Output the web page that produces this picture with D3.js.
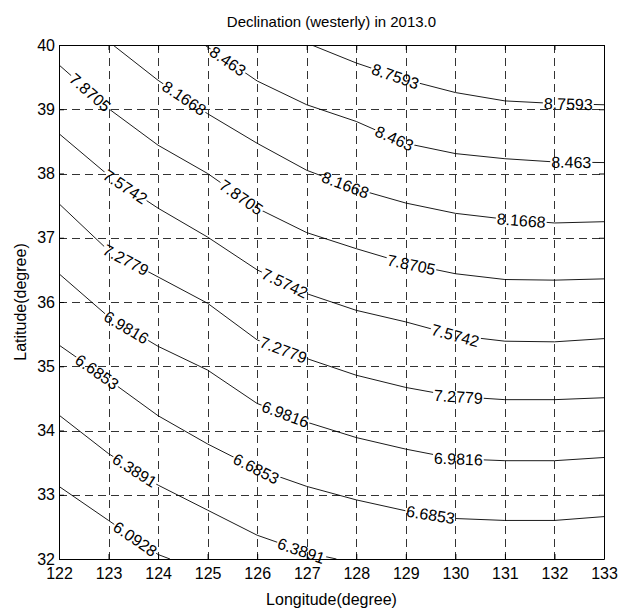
<!DOCTYPE html>
<html>
<head>
<meta charset="utf-8">
<script src="https://cdn.jsdelivr.net/npm/d3@7"></script>
<style>
  body { margin: 0; background: #fff; }
  text { font-family: "Liberation Sans", Arial, sans-serif; fill: #000; }
</style>
</head>
<body>
<div id="chart"></div>
<script>
// contour levels (declination, degrees west)
var levels = [6.0928, 6.3891, 6.6853, 6.9816, 7.2779, 7.5742, 7.8705, 8.1668, 8.463, 8.7593];

// each contour as [longitude, latitude] points
var line60928 = [[122,33.13],[123,32.6],[124,32.07],[124.24,32]];
var line63891 = [[122,34.24],[123,33.64],[124,33.15],[125,32.76],[126,32.37],[127,32.1],[127.6,32]];
var line66853 = [[122,35.33],[123,34.79],[124,34.23],[125,33.79],[126,33.4],[127,33.13],[128,32.92],[129,32.75],[130,32.63],[131,32.6],[132,32.6],[133,32.66]];
var line69816 = [[122,36.44],[123,35.77],[124,35.31],[125,34.94],[126,34.42],[127,34.13],[128,33.89],[129,33.71],[130,33.56],[131,33.53],[132,33.53],[133,33.58]];
var line72779 = [[122,37.53],[123,36.8],[124,36.39],[125,35.98],[126,35.41],[127,35.12],[128,34.86],[129,34.67],[130,34.53],[131,34.48],[132,34.48],[133,34.51]];
var line75742 = [[122,38.62],[123,37.97],[124,37.46],[125,37.01],[126,36.5],[127,36.13],[128,35.87],[129,35.69],[130,35.48],[131,35.39],[132,35.38],[133,35.43]];
var line78705 = [[122,39.69],[123,39.01],[124,38.44],[125,38.0],[126,37.46],[127,37.08],[128,36.83],[129,36.6],[130,36.44],[131,36.35],[132,36.34],[133,36.36]];
var line81668 = [[123.09,40],[124,39.45],[125,38.93],[126,38.47],[127,38.05],[128,37.76],[129,37.54],[130,37.38],[131,37.29],[132,37.23],[133,37.25]];
var line8463  = [[124.94,40],[126,39.44],[127,39.07],[128,38.81],[129,38.47],[130,38.31],[131,38.23],[132,38.18],[133,38.17]];
var line87593 = [[127.1,40],[128,39.72],[129,39.46],[130,39.26],[131,39.13],[132,39.09],[133,39.07]];

var contourLines = [line60928, line63891, line66853, line69816, line72779,
                    line75742, line78705, line81668, line8463, line87593];

// longitude of each inline label on each contour
var labelLon = [
  [123.54],
  [123.53, 126.89],
  [122.77, 125.98, 129.5],
  [123.36, 126.57, 130.06],
  [123.35, 126.53, 130.06],
  [123.34, 126.56, 130.0],
  [122.63, 125.68, 129.11],
  [124.53, 127.78, 131.33],
  [125.41, 128.77, 132.34],
  [128.79, 132.28]
];

var lonTicks = [122, 123, 124, 125, 126, 127, 128, 129, 130, 131, 132, 133];
var latTicks = [32, 33, 34, 35, 36, 37, 38, 39, 40];

var width = 621;
var height = 609;
var plotLeft = 59, plotRight = 604, plotTop = 45, plotBottom = 559;

var x = d3.scaleLinear().domain([122, 133]).range([plotLeft, plotRight]);
var y = d3.scaleLinear().domain([32, 40]).range([plotBottom, plotTop]);

var svg = d3.select("#chart")
  .append("svg")
  .attr("width", width)
  .attr("height", height);

var defs = svg.append("defs");
defs.append("clipPath").attr("id", "plot-clip")
  .append("rect")
  .attr("x", plotLeft).attr("y", plotTop)
  .attr("width", plotRight - plotLeft).attr("height", plotBottom - plotTop);

// grid
var grid = svg.append("g").attr("class", "grid")
  .attr("stroke", "#333").attr("stroke-width", 1)
  .attr("stroke-dasharray", "8,5");

grid.selectAll(".vgrid")
  .data(lonTicks.slice(1, -1))
  .enter().append("line")
  .attr("x1", function(d){ return Math.round(x(d)) + 0.5; })
  .attr("x2", function(d){ return Math.round(x(d)) + 0.5; })
  .attr("y1", plotTop).attr("y2", plotBottom);

grid.selectAll(".hgrid")
  .data(latTicks.slice(1, -1))
  .enter().append("line")
  .attr("y1", function(d){ return Math.round(y(d)) + 0.5; })
  .attr("y2", function(d){ return Math.round(y(d)) + 0.5; })
  .attr("x1", plotLeft).attr("x2", plotRight);

// interpolate a point + angle on a contour at a longitude
function pointAt(pts, lon) {
  for (var i = 0; i < pts.length - 1; i++) {
    var a = pts[i], b = pts[i + 1];
    if (lon >= a[0] && lon <= b[0]) {
      var t = (lon - a[0]) / (b[0] - a[0]);
      var lat = a[1] + t * (b[1] - a[1]);
      var ang = Math.atan2(y(b[1]) - y(a[1]), x(b[0]) - x(a[0])) * 180 / Math.PI;
      return { px: x(lon), py: y(lat), angle: ang };
    }
  }
  return null;
}

var labels = [];
contourLines.forEach(function(pts, i) {
  labelLon[i].forEach(function(lon) {
    var p = pointAt(pts, lon);
    if (p) labels.push({ text: String(levels[i]), px: p.px, py: p.py, angle: p.angle });
  });
});

// labels first so we can measure them for the line gaps
var labelG = svg.append("g").attr("class", "labels");
var labelText = labelG.selectAll("text")
  .data(labels)
  .enter().append("text")
  .attr("transform", function(d){ return "translate(" + d.px + "," + d.py + ") rotate(" + d.angle + ")"; })
  .attr("text-anchor", "middle")
  .attr("dy", "0.36em")
  .style("font-size", "16px")
  .text(function(d){ return d.text; });

labelText.each(function(d){ d.w = this.getComputedTextLength(); });

var mask = defs.append("mask").attr("id", "gaps")
  .attr("maskUnits", "userSpaceOnUse")
  .attr("x", 0).attr("y", 0).attr("width", width).attr("height", height);
mask.append("rect").attr("width", width).attr("height", height).attr("fill", "#fff");
mask.selectAll(".gap")
  .data(labels)
  .enter().append("rect")
  .attr("x", function(d){ return -d.w / 2 - 1; })
  .attr("y", -6)
  .attr("width", function(d){ return d.w + 2; })
  .attr("height", 12)
  .attr("fill", "#000")
  .attr("transform", function(d){ return "translate(" + d.px + "," + d.py + ") rotate(" + d.angle + ")"; });

var lineGen = d3.line()
  .x(function(d){ return x(d[0]); })
  .y(function(d){ return y(d[1]); });

svg.append("g")
  .attr("clip-path", "url(#plot-clip)")
  .append("g")
  .attr("mask", "url(#gaps)")
  .selectAll("path")
  .data(contourLines)
  .enter().append("path")
  .attr("d", lineGen)
  .attr("fill", "none")
  .attr("stroke", "#000")
  .attr("stroke-width", 0.9);

labelG.raise();

// axes, ticks inside like MATLAB
var xAxis = svg.append("g")
  .attr("transform", "translate(0," + plotBottom + ")")
  .call(d3.axisBottom(x).tickValues(lonTicks).tickSizeInner(-5).tickSizeOuter(0).tickPadding(9));
var yAxis = svg.append("g")
  .attr("transform", "translate(" + plotLeft + ",0)")
  .call(d3.axisLeft(y).tickValues(latTicks).tickSizeInner(-5).tickSizeOuter(0).tickPadding(4));
var xTop = svg.append("g")
  .attr("transform", "translate(0," + plotTop + ")")
  .call(d3.axisTop(x).tickValues(lonTicks).tickSizeInner(-5).tickSizeOuter(0).tickFormat(""));
var yRight = svg.append("g")
  .attr("transform", "translate(" + plotRight + ",0)")
  .call(d3.axisRight(y).tickValues(latTicks).tickSizeInner(-5).tickSizeOuter(0).tickFormat(""));

[xAxis, yAxis, xTop, yRight].forEach(function(g) {
  g.selectAll("text").style("font-size", "16px");
  g.selectAll("line, path").attr("stroke", "#000");
  g.attr("font-family", null).attr("font-size", null);
});

svg.append("text")
  .attr("x", (plotLeft + plotRight) / 2)
  .attr("y", 27)
  .attr("text-anchor", "middle")
  .style("font-size", "15px")
  .text("Declination (westerly) in 2013.0");

svg.append("text")
  .attr("x", (plotLeft + plotRight) / 2)
  .attr("y", 605)
  .attr("text-anchor", "middle")
  .style("font-size", "16px")
  .text("Longitude(degree)");

svg.append("text")
  .attr("transform", "translate(26," + (plotTop + plotBottom) / 2 + ") rotate(-90)")
  .attr("text-anchor", "middle")
  .style("font-size", "16px")
  .text("Latitude(degree)");
</script>
</body>
</html>
